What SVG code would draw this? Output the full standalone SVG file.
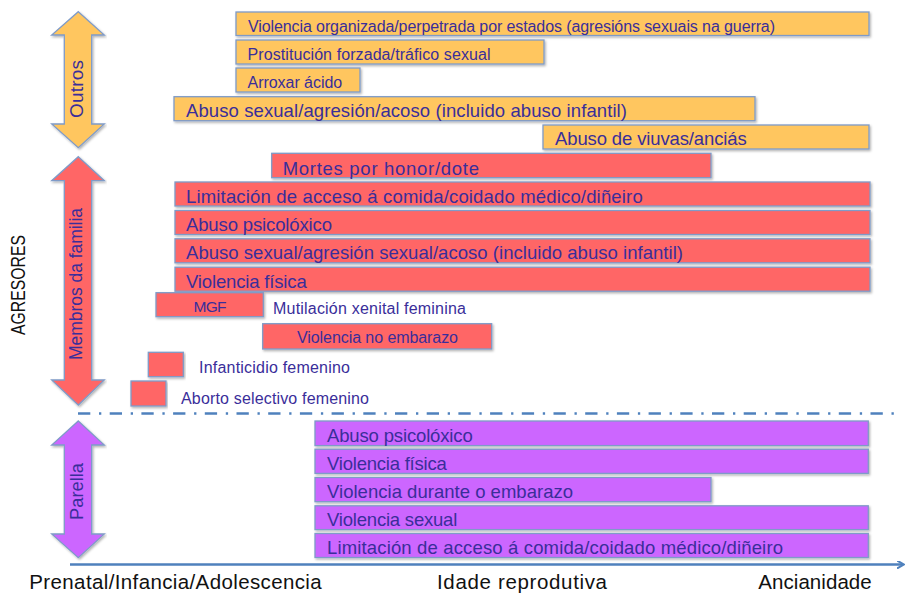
<svg xmlns="http://www.w3.org/2000/svg" width="906" height="594" viewBox="0 0 906 594">
<defs>
<filter id="sh" x="-5%" y="-20%" width="110%" height="150%">
<feDropShadow dx="1.2" dy="1.5" stdDeviation="1" flood-color="#000" flood-opacity="0.3"/>
</filter>
<marker id="ah" markerWidth="8" markerHeight="8" refX="6" refY="4" orient="auto" markerUnits="userSpaceOnUse">
<path d="M0,0 L7,4 L0,8" fill="none" stroke="#4F81BD" stroke-width="2"/>
</marker>
<style>
.y{fill:#FFC65E;stroke:#7F9BC8;stroke-width:1.3;filter:url(#sh)}
.r{fill:#FF6666;stroke:#7F9BC8;stroke-width:1.3;filter:url(#sh)}
.p{fill:#CC66FF;stroke:#7F9BC8;stroke-width:1.3;filter:url(#sh)}
text{font-family:"Liberation Sans",Arial,sans-serif;fill:#3A2E9A}
.b{font-size:18.5px}
.s{font-size:16px}
.k{fill:#111;font-size:20.5px}
</style>
</defs>
<rect width="906" height="594" fill="#fff"/>

<g id="axes">
<line x1="78" y1="413.5" x2="897" y2="413.5" stroke="#4F81BD" stroke-width="2.5" stroke-dasharray="12.3 8.7 2.3 8.4"/>
<line x1="70" y1="564.5" x2="903" y2="564.5" stroke="#4F81BD" stroke-width="2.5" marker-end="url(#ah)"/>
</g>

<g id="arrow-outros">
<path class="y" d="M78.3,11.7 L104.3,35 L91.7,35 L91.7,124 L104.3,124 L78.3,147.7 L51.7,124 L64.3,124 L64.3,35 L51.7,35 Z"/>
<text transform="translate(83,89) rotate(-90)" text-anchor="middle" font-size="19" textLength="58">Outros</text>
</g>
<g id="arrow-membros">
<path class="r" d="M78.3,156.7 L104.3,180.7 L91.7,180.7 L91.7,380 L104.3,380 L78.3,405 L51.7,380 L64.3,380 L64.3,180.7 L51.7,180.7 Z"/>
<text transform="translate(82,284) rotate(-90)" text-anchor="middle" font-size="17.5" textLength="152">Membros da familia</text>
</g>
<g id="arrow-parella">
<path class="p" d="M78.3,421 L104.3,445 L91.7,445 L91.7,534 L104.3,534 L78.3,557.7 L51.7,534 L64.3,534 L64.3,445 L51.7,445 Z"/>
<text transform="translate(83,491.5) rotate(-90)" text-anchor="middle" font-size="18.3" textLength="57">Parella</text>
</g>
<g id="label-agresores">
<text transform="translate(25,285) rotate(-90)" text-anchor="middle" font-size="20" textLength="100" lengthAdjust="spacingAndGlyphs" style="fill:#111">AGRESORES</text>
</g>

<g id="y1"><rect class="y" x="236" y="12" width="633" height="23.5"/><text class="s" x="248" y="32" textLength="527">Violencia organizada/perpetrada por estados (agresións sexuais na guerra)</text></g>
<g id="y2"><rect class="y" x="236" y="40" width="308" height="24"/><text class="s" x="247.5" y="60" textLength="243">Prostitución forzada/tráfico sexual</text></g>
<g id="y3"><rect class="y" x="236" y="68" width="124" height="24"/><text class="s" x="247.5" y="88" textLength="94.7">Arroxar ácido</text></g>
<g id="y4"><rect class="y" x="174" y="96.7" width="581" height="24"/><text class="b" x="186" y="117.3" textLength="441">Abuso sexual/agresión/acoso (incluido abuso infantil)</text></g>
<g id="y5"><rect class="y" x="543" y="125" width="326" height="24"/><text class="b" x="555" y="144.8" textLength="191.7">Abuso de viuvas/anciás</text></g>

<g id="r1"><rect class="r" x="271.7" y="153.3" width="439.3" height="24.4"/><text class="b" x="282.7" y="174.5" textLength="196.3">Mortes por honor/dote</text></g>
<g id="r2"><rect class="r" x="175" y="182" width="695" height="24"/><text class="b" x="186" y="202.5" textLength="456.7">Limitación de acceso á comida/coidado médico/diñeiro</text></g>
<g id="r3"><rect class="r" x="175" y="210.5" width="695" height="24"/><text class="b" x="186" y="231" textLength="146">Abuso psicolóxico</text></g>
<g id="r4"><rect class="r" x="175" y="238.8" width="695" height="24"/><text class="b" x="186" y="259.3" textLength="497">Abuso sexual/agresión sexual/acoso (incluido abuso infantil)</text></g>
<g id="r5"><rect class="r" x="175" y="267.2" width="695" height="24"/><text class="b" x="186" y="287.5" textLength="120.7">Violencia física</text></g>

<g id="mgf"><rect class="r" x="156" y="292.7" width="107.3" height="24"/><text x="210" y="311.5" text-anchor="middle" font-size="15.5" textLength="33">MGF</text><text class="s" x="273" y="314" textLength="193">Mutilación xenital feminina</text></g>
<g id="r-embarazo"><rect class="r" x="262.7" y="323.7" width="229" height="25.3"/><text class="s" x="377.5" y="343.3" text-anchor="middle" textLength="161">Violencia no embarazo</text></g>
<g id="r-infanticidio"><rect class="r" x="148.3" y="352.3" width="35" height="24.4"/><text class="s" x="199" y="372.7" textLength="151">Infanticidio femenino</text></g>
<g id="r-aborto"><rect class="r" x="131" y="381" width="35" height="25"/><text class="s" x="181" y="404" textLength="188">Aborto selectivo femenino</text></g>

<g id="p1"><rect class="p" x="315" y="421" width="553.3" height="24.6"/><text class="b" x="327" y="442.2" textLength="145.7">Abuso psicolóxico</text></g>
<g id="p2"><rect class="p" x="315" y="449.2" width="553.3" height="24.2"/><text class="b" x="327" y="470" textLength="119.7">Violencia física</text></g>
<g id="p3"><rect class="p" x="315" y="477.5" width="396" height="24.2"/><text class="b" x="327" y="498.2" textLength="246">Violencia durante o embarazo</text></g>
<g id="p4"><rect class="p" x="315" y="505.8" width="553.3" height="23.8"/><text class="b" x="327" y="526.2" textLength="130.3">Violencia sexual</text></g>
<g id="p5"><rect class="p" x="315" y="533.5" width="553.3" height="24"/><text class="b" x="327" y="554" textLength="456">Limitación de acceso á comida/coidado médico/diñeiro</text></g>

<g id="axis-labels">
<text class="k" x="29.3" y="589" textLength="292.4">Prenatal/Infancia/Adolescencia</text>
<text class="k" x="437" y="589" textLength="170">Idade reprodutiva</text>
<text class="k" x="758.3" y="589" textLength="113.4">Ancianidade</text>
</g>
</svg>
